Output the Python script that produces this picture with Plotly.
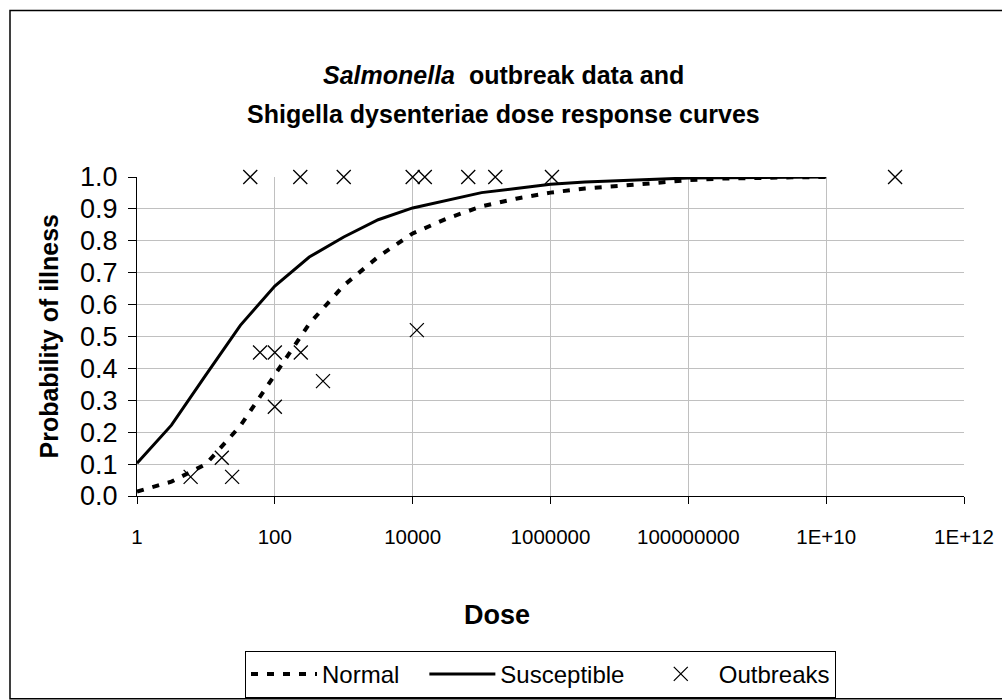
import plotly.graph_objects as go

# dose response curves (at half-decade steps)
curve_dose = [1, 3.16, 10, 31.6, 100, 316, 1000, 3160, 1e4, 3.16e4, 1e5,
              3.16e5, 1e6, 3.16e6, 1e7, 3.16e7, 1e8, 3.16e8, 1e9, 3.16e9, 1e10]
normal_p = [0.014, 0.045, 0.10, 0.22, 0.38, 0.54, 0.66, 0.75, 0.823, 0.870, 0.908,
            0.932, 0.951, 0.964, 0.972, 0.982, 0.990, 0.995, 0.998, 0.999, 1.0]
susceptible_p = [0.103, 0.222, 0.38, 0.535, 0.658, 0.749, 0.812, 0.866, 0.903, 0.928, 0.951,
                 0.964, 0.977, 0.984, 0.989, 0.993, 0.997, 0.998, 0.999, 0.999, 1.0]

# Salmonella outbreaks
outbreak_dose = [6, 17, 24, 44, 61, 100, 100, 234, 238, 500, 1000,
                 10000, 11500, 15000, 64000, 158000, 1.05e6, 1e11]
outbreak_p = [0.06, 0.12, 0.06, 1.0, 0.45, 0.45, 0.28, 1.0, 0.45, 0.36, 1.0,
              1.0, 0.52, 1.0, 1.0, 1.0, 1.0, 1.0]

x_tickvals = [1, 100, 1e4, 1e6, 1e8, 1e10, 1e12]
x_ticktext = ["1", "100", "10000", "1000000", "100000000", "1E+10", "1E+12"]

FONT = "Liberation Sans, Arial, sans-serif"
NBSP = "\u00a0"  # pads legend entries apart

fig = go.Figure()
fig.add_trace(go.Scatter(
    x=curve_dose, y=normal_p, mode="lines", name="Normal" + NBSP * 3,
    line=dict(color="black", width=4, dash="7px,9px"),
))
fig.add_trace(go.Scatter(
    x=curve_dose, y=susceptible_p, mode="lines", name="Susceptible" + NBSP * 2,
    line=dict(color="black", width=3),
))
fig.add_trace(go.Scatter(
    x=outbreak_dose, y=outbreak_p, mode="markers", name="Outbreaks",
    marker=dict(symbol="x-thin", size=14, line=dict(color="black", width=1.3)),
    cliponaxis=False,
))

fig.update_layout(
    width=1002, height=700,
    margin=dict(l=137, r=38, t=177, b=204, autoexpand=False),
    paper_bgcolor="white", plot_bgcolor="white",
    font=dict(family=FONT, color="black"),
    showlegend=True,
    legend=dict(
        orientation="h", x=(245 - 137) / 827, y=(496 - 698) / 319.3,
        xanchor="left", yanchor="bottom",
        bordercolor="black", borderwidth=1, font=dict(size=24),
        itemwidth=66, traceorder="normal",
    ),
)

fig.update_xaxes(
    type="log", range=[0, 12],
    tickvals=x_tickvals, ticktext=x_ticktext,
    showgrid=True, gridcolor="#c0c0c0", gridwidth=1,
    showline=True, linecolor="black", linewidth=1,
    ticks="outside", ticklen=7, tickcolor="black",
    tickfont=dict(size=20.5), ticklabelstandoff=15,
    zeroline=False, automargin=False,
)
fig.update_yaxes(
    range=[0, 1], dtick=0.1, tickformat=".1f",
    showgrid=True, gridcolor="#c0c0c0", gridwidth=1,
    showline=True, linecolor="black", linewidth=1,
    ticks="outside", ticklen=8, tickcolor="black",
    tickfont=dict(size=27), ticklabelstandoff=5,
    zeroline=False, automargin=False,
)

# titles
fig.add_annotation(
    text="<b><i>Salmonella</i>  outbreak data and</b>",
    xref="paper", yref="paper", x=0.4426, y=(496 - 75) / 319.3,
    showarrow=False, font=dict(size=25), xanchor="center", yanchor="middle",
)
fig.add_annotation(
    text="<b>Shigella dysenteriae dose response curves</b>",
    xref="paper", yref="paper", x=0.4426, y=(496 - 114) / 319.3,
    showarrow=False, font=dict(size=25), xanchor="center", yanchor="middle",
)
fig.add_annotation(
    text="<b>Probability of illness</b>", textangle=-90,
    xref="paper", yref="paper", x=(48 - 137) / 827, y=0.5,
    showarrow=False, font=dict(size=25), xanchor="center", yanchor="middle",
)
fig.add_annotation(
    text="<b>Dose</b>",
    xref="paper", yref="paper", x=(497 - 137) / 827, y=(496 - 615) / 319.3,
    showarrow=False, font=dict(size=27), xanchor="center", yanchor="middle",
)

# chart area border
fig.add_shape(
    type="rect", xref="paper", yref="paper",
    x0=(10 - 137) / 827, x1=(1004 - 137) / 827,
    y0=(496 - 699) / 319.3, y1=(496 - 10) / 319.3,
    line=dict(color="black", width=1.5), layer="below",
)

fig.write_html(
    "out.html",
    config={"displayModeBar": False},
    post_script="document.body.style.margin='0';document.body.style.overflow='hidden';",
)
